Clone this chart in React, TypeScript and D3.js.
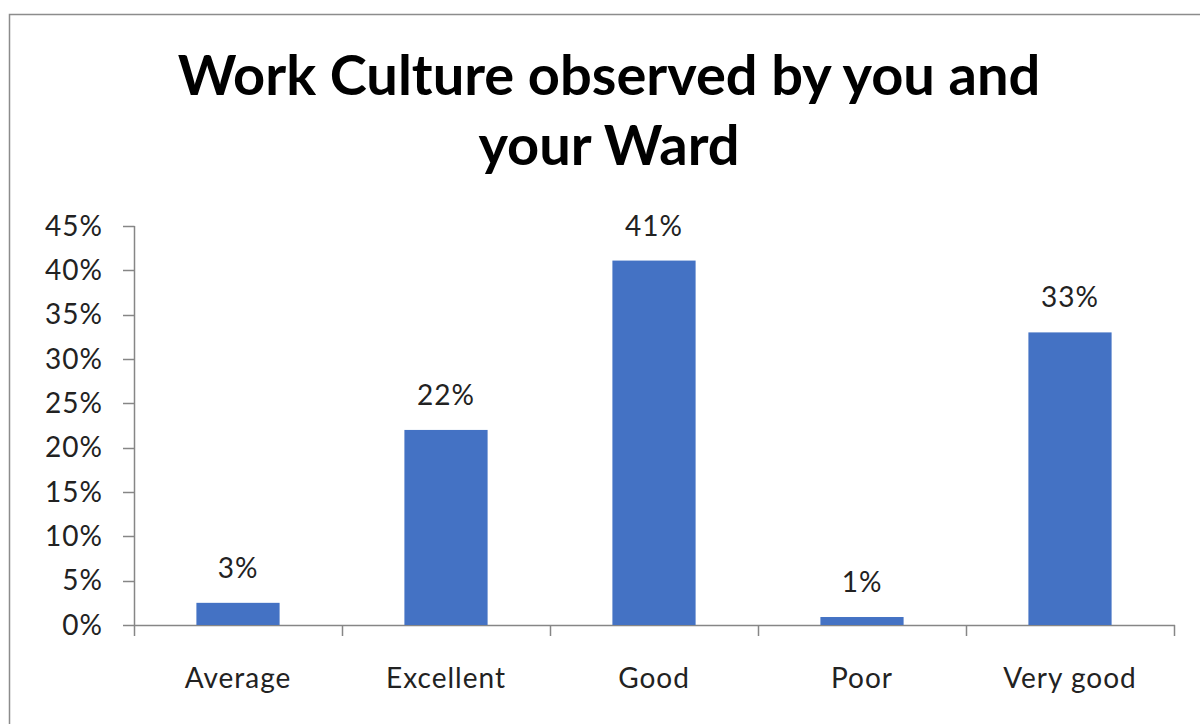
import React from "react";
import * as d3 from "d3";

const categories = ["Average", "Excellent", "Good", "Poor", "Very good"];
const values = [0.025, 0.22, 0.411, 0.009, 0.33];
const valueLabels = ["3%", "22%", "41%", "1%", "33%"];
const yTicks = [0, 0.05, 0.1, 0.15, 0.2, 0.25, 0.3, 0.35, 0.4, 0.45];
const titleLines = ["Work Culture observed by you and", "your Ward"];

const W = 1200;
const H = 724;
const FONT = "Lato, 'Open Sans', sans-serif";
const AXIS = "#868686";
const TEXT = "#222";

export default function App() {
  const y = d3.scaleLinear().domain([0, 0.45]).range([625, 226]);
  const x = d3
    .scaleBand<string>()
    .domain(categories)
    .range([134, 1174])
    .paddingInner(0.6)
    .paddingOuter(0.3);
  const step = x.step();
  const bounds = d3.range(categories.length + 1).map((i) => 134 + i * step);

  return (
    <svg
      width={W}
      height={H}
      style={{ position: "absolute", left: 0, top: 0, background: "#fff" }}
    >
      <rect x={9.5} y={14.5} width={1200} height={720} fill="#fff" stroke="#8c8c8c" strokeWidth={1.5} />
      {titleLines.map((t, i) => (
        <text
          key={i}
          x={609}
          y={95 + i * 70}
          textAnchor="middle"
          fontFamily={FONT}
          fontWeight="bold"
          fontSize={56}
          fill="#000"
        >
          {t}
        </text>
      ))}
      {/* y axis */}
      <line x1={134.5} x2={134.5} y1={226} y2={625} stroke={AXIS} strokeWidth={1.5} />
      {yTicks.map((t) => (
        <g key={t}>
          <line x1={123} x2={134.5} y1={Math.round(y(t)) + 0.5} y2={Math.round(y(t)) + 0.5} stroke={AXIS} strokeWidth={1.5} />
          <text
            x={103}
            y={y(t) + 9.5}
            textAnchor="end"
            fontFamily={FONT}
            fontSize={28}
            letterSpacing={1}
            fill={TEXT}
          >
            {Math.round(t * 100) + "%"}
          </text>
        </g>
      ))}
      {/* x axis */}
      <line x1={134} x2={1175} y1={625.5} y2={625.5} stroke={AXIS} strokeWidth={1.5} />
      {bounds.map((b, i) => (
        <line key={i} x1={b + 0.5} x2={b + 0.5} y1={625} y2={636} stroke={AXIS} strokeWidth={1.5} />
      ))}
      {categories.map((c, i) => {
        const bx = x(c)!;
        const bw = x.bandwidth();
        const top = y(values[i]);
        return (
          <g key={c}>
            <rect x={bx} y={top} width={bw} height={y(0) - top} fill="#4472C4" />
            <text
              x={bx + bw / 2}
              y={top - 25}
              textAnchor="middle"
              fontFamily={FONT}
              fontSize={28}
              letterSpacing={1}
              fill={TEXT}
            >
              {valueLabels[i]}
            </text>
            <text
              x={bx + bw / 2}
              y={688}
              textAnchor="middle"
              fontFamily={FONT}
              fontSize={28}
              letterSpacing={1}
              fill={TEXT}
            >
              {c}
            </text>
          </g>
        );
      })}
    </svg>
  );
}
